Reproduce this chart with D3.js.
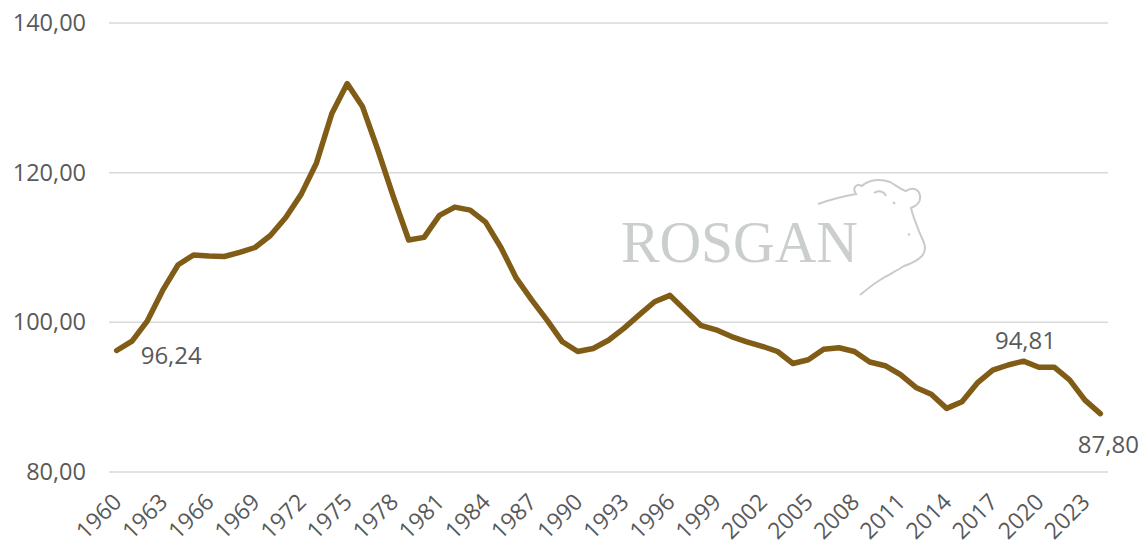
<!DOCTYPE html>
<html>
<head>
<meta charset="utf-8">
<script src="https://cdn.jsdelivr.net/npm/d3@7"></script>
<style>
  body { margin: 0; background: #fff; }
  svg { display: block; }
</style>
</head>
<body>
<div id="chart"></div>
<script>

// years on the category axis
const years = d3.range( 1960, 2025 );

// index values
const values = [
  96.24, 97.5, 100.2, 104.3, 107.7, 109.0, 108.85, 108.8, 109.35, 110.0,
  111.6, 114.0, 117.1, 121.3, 127.9, 131.9, 128.8, 123.0, 116.8, 111.0,
  111.35, 114.3, 115.4, 115.0, 113.4, 110.0, 105.9, 103.0, 100.3, 97.4,
  96.1, 96.5, 97.6, 99.2, 101.0, 102.75, 103.6, 101.6, 99.6, 99.0,
  98.1, 97.4, 96.8, 96.1, 94.5, 95.0, 96.4, 96.6, 96.1, 94.7,
  94.2, 93.0, 91.3, 90.4, 88.5, 89.4, 91.9, 93.6, 94.3, 94.81,
  94.0, 94.0, 92.3, 89.6, 87.80
];

const yTicks = [ 80, 100, 120, 140 ];

// labelled points: year and where the label sits
const labelled = [
  { year: 1960, pos: "right" },
  { year: 2019, pos: "above" },
  { year: 2024, pos: "below" }
];

const width = 1147, height = 546;
const fmt = v => d3.format( ".2f" )( v ).replace( ".", "," );

const svg = d3.select( "#chart" )
  .append( "svg" )
  .attr( "width", width )
  .attr( "height", height );

const x = d3.scaleBand()
  .domain( years )
  .range( [ 109, 1108 ] );

const y = d3.scaleLinear()
  .domain( [ 80, 140 ] )
  .range( [ 472, 23 ] );

const cx = d => x( d ) + x.bandwidth() / 2;

// gridlines
svg.append( "g" )
  .selectAll( "line" )
  .data( yTicks )
  .enter()
  .append( "line" )
    .attr( "x1", 109 )
    .attr( "x2", 1108 )
    .attr( "y1", d => y( d ) )
    .attr( "y2", d => y( d ) )
    .attr( "stroke", "#d9d9d9" )
    .attr( "stroke-width", 1.5 );

// y axis
const yAxis = svg.append( "g" )
  .attr( "transform", "translate(86,0)" )
  .call( d3.axisLeft( y ).tickValues( yTicks ).tickSize( 0 ).tickPadding( 0 ).tickFormat( fmt ) );
yAxis.select( ".domain" ).remove();
yAxis.selectAll( "text" )
  .attr( "fill", "#595959" )
  .style( "font-family", "'Open Sans', sans-serif" )
  .style( "font-size", "23.5px" );

// x axis, every third year, rotated
const xAxis = svg.append( "g" )
  .attr( "transform", "translate(0,497)" )
  .call( d3.axisBottom( x ).tickValues( years.filter( ( d, i ) => i % 3 === 0 ) ).tickSize( 0 ) );
xAxis.select( ".domain" ).remove();
xAxis.selectAll( "text" )
  .attr( "y", 0 )
  .attr( "dy", null )
  .attr( "text-anchor", "end" )
  .attr( "dominant-baseline", "central" )
  .attr( "transform", "rotate(-45)" )
  .attr( "fill", "#595959" )
  .style( "font-family", "'Open Sans', sans-serif" )
  .style( "font-size", "23px" );

// watermark
const wm = svg.append( "g" );
wm.append( "text" )
  .attr( "x", 621 )
  .attr( "y", 262 )
  .attr( "textLength", 237 )
  .attr( "lengthAdjust", "spacingAndGlyphs" )
  .attr( "fill", "#cbcecf" )
  .style( "font-family", "'Liberation Serif', 'DejaVu Serif', serif" )
  .style( "font-size", "60px" )
  .text( "ROSGAN" );
wm.append( "path" )
  .attr( "d", "M818,204 C832,199 845,196 856,194 C852,188 856,183 862,186 C868,180 880,178 890,182 C897,186 902,190 906,191 C911,187 919,188 920,196 C921,202 916,206 911,208 C913,217 917,226 921,236 C925,244 927,250 922,256 C916,262 910,264 904,266 C898,270 890,274 880,280 C872,285 866,290 860,295" )
  .attr( "fill", "none" )
  .attr( "stroke", "#c8cbcd" )
  .attr( "stroke-width", 2 );
wm.append( "path" )
  .attr( "d", "M874,193 C878,190 884,191 886,196 M893,202 l2,2 M908,234 l2,1" )
  .attr( "fill", "none" )
  .attr( "stroke", "#c8cbcd" )
  .attr( "stroke-width", 2 );

// the line
const line = d3.line()
  .x( ( d, i ) => cx( years[ i ] ) )
  .y( d => y( d ) );

svg.append( "path" )
  .datum( values )
  .attr( "d", line )
  .attr( "fill", "none" )
  .attr( "stroke", "#805c16" )
  .attr( "stroke-width", 5.5 )
  .attr( "stroke-linejoin", "round" )
  .attr( "stroke-linecap", "round" );

// data labels
svg.append( "g" )
  .selectAll( "text" )
  .data( labelled )
  .enter()
  .append( "text" )
    .attr( "x", d => {
      const px = cx( d.year );
      if( d.pos === "right" ) return px + 24;
      if( d.pos === "below" ) return px + 8;
      return px + 2;
    } )
    .attr( "y", d => {
      const py = y( values[ years.indexOf( d.year ) ] );
      if( d.pos === "right" ) return py + 4;
      if( d.pos === "above" ) return py - 22;
      return py + 30;
    } )
    .attr( "text-anchor", d => d.pos === "right" ? "start" : "middle" )
    .attr( "dominant-baseline", "central" )
    .attr( "fill", "#595959" )
    .style( "font-family", "'Open Sans', sans-serif" )
    .style( "font-size", "24px" )
    .text( d => fmt( values[ years.indexOf( d.year ) ] ) );

</script>
</body>
</html>
